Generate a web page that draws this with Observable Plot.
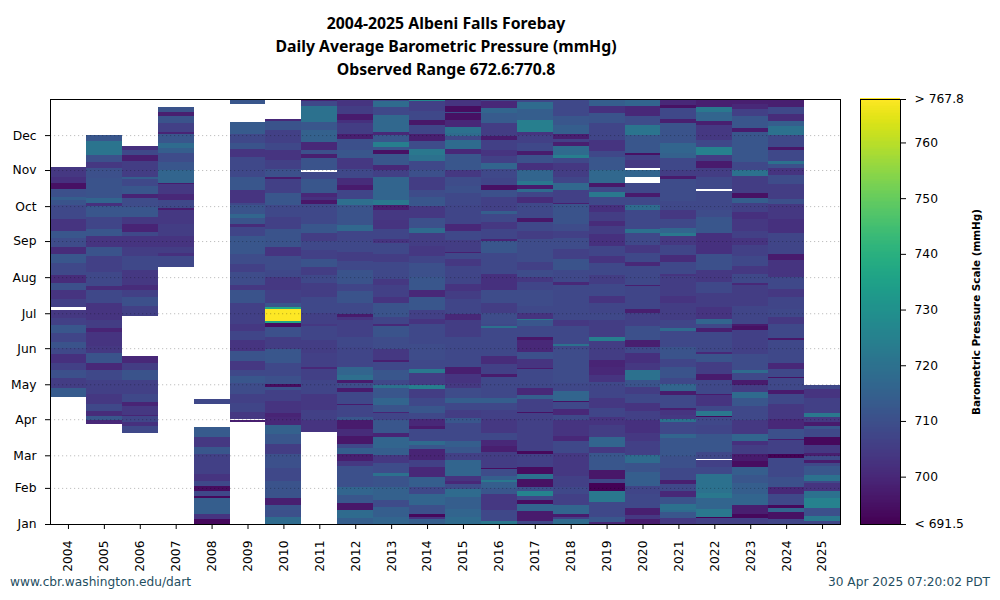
<!DOCTYPE html>
<html><head><meta charset="utf-8">
<script src="https://cdn.jsdelivr.net/npm/d3@7"></script>
<script src="https://cdn.jsdelivr.net/npm/@observablehq/plot@0.6"></script>
<style>
html,body{margin:0;padding:0;background:#fff}
#page{position:relative;width:1000px;height:600px;overflow:hidden;font-family:"DejaVu Sans",sans-serif}
#title{position:absolute;left:0;width:892px;top:12px;text-align:center;font:bold 15.8px/23px "Noto Sans",sans-serif;color:#000}
.foot{position:absolute;top:574px;font:12.2px/16px "DejaVu Sans",sans-serif;color:#1f4e5f}
#main,#bar{position:absolute;top:0}
svg{overflow:visible}
</style></head><body>
<div id="page">
<div id="title"><div>2004-2025 Albeni Falls Forebay</div><div>Daily Average Barometric Pressure (mmHg)</div><div>Observed Range 672.6:770.8</div></div>
<div id="main"></div><div id="bar"></div>
<div class="foot" style="left:10px">www.cbr.washington.edu/dart</div>
<div class="foot" style="right:10px">30 Apr 2025 07:20:02 PDT</div>
</div>
<script>
const years = [2004,2005,2006,2007,2008,2009,2010,2011,2012,2013,2014,2015,2016,2017,2018,2019,2020,2021,2022,2023,2024,2025];
const monthNames = ["Jan","Feb","Mar","Apr","May","Jun","Jul","Aug","Sep","Oct","Nov","Dec"];
const monthStarts = [0,31,59,90,120,151,181,212,243,273,304,334];
const scaleLow = 691.5, scaleHigh = 767.8;
const scaleTicks = [691.5,700,710,720,730,740,750,760,767.8];
// each run: [first day of year, pressure in mmHg]; null = no data
const y2004 = [[109,713],[117,705],[125,710],[132,706],[138,702],[146,708],[151,711],[156,707],[164,712],[171,706],[177,704],[184,null],[186,706],[193,703],[201,710],[207,701],[214,708],[224,712],[232,701],[238,709],[246,712],[252,703],[262,708],[274,711],[278,714],[281,710],[288,695],[293,702],[298,704],[307,null]];
const y2005 = [[86,700],[89,712],[93,701],[97,708],[103,704],[112,706],[124,708],[132,700],[138,711],[147,704],[153,703],[165,699],[168,705],[175,703],[190,708],[201,701],[204,708],[216,706],[230,711],[238,703],[247,712],[253,707],[264,712],[273,702],[276,716],[280,711],[297,710],[306,704],[311,710],[317,721],[329,712],[334,null]];
const y2006 = [[78,708],[84,702],[88,707],[93,699],[94,704],[101,699],[105,708],[112,706],[124,711],[132,705],[138,700],[144,null],[179,706],[187,710],[195,706],[201,701],[205,704],[218,708],[230,705],[238,703],[247,708],[251,699],[258,704],[264,712],[272,709],[280,699],[283,712],[290,708],[296,714],[298,705],[312,698],[317,708],[321,702],[325,null]];
const y2007 = [[221,708],[230,702],[233,705],[238,703],[247,705],[258,704],[270,697],[271,708],[278,700],[283,704],[292,697],[293,716],[304,712],[311,709],[319,714],[323,718],[327,712],[335,699],[337,706],[344,711],[350,698],[354,711],[358,null]];
const y2008 = [[0,693],[4,703],[9,714],[22,693],[24,708],[28,694],[33,708],[37,703],[43,706],[60,712],[66,704],[75,713],[83,null],[103,708],[107,null]];
const y2009 = [[88,698],[89,null],[90,704],[96,707],[104,706],[112,709],[121,712],[127,708],[132,704],[140,711],[149,703],[158,707],[166,704],[172,706],[190,711],[201,704],[205,709],[216,706],[223,709],[232,712],[247,707],[255,701],[258,711],[263,716],[266,711],[274,708],[276,703],[287,712],[298,708],[315,703],[322,711],[327,708],[335,713],[345,null],[361,712],[365,null]];
const y2010 = [[0,718],[6,710],[12,711],[16,698],[22,711],[37,708],[48,710],[60,705],[69,712],[77,715],[85,700],[92,699],[95,703],[106,706],[115,710],[118,694],[120,710],[127,708],[138,712],[150,705],[161,710],[169,694],[173,737],[174,770],[185,737],[186,712],[190,706],[201,704],[212,708],[218,709],[230,703],[238,711],[253,706],[264,708],[274,712],[284,706],[296,697],[298,710],[305,706],[313,703],[321,708],[327,706],[338,711],[346,700],[348,null]];
const y2011 = [[79,703],[89,706],[98,704],[112,707],[124,706],[133,700],[135,706],[147,705],[158,707],[170,704],[172,706],[181,708],[195,705],[207,708],[214,705],[221,711],[228,706],[235,708],[243,705],[250,712],[258,708],[275,696],[278,702],[281,700],[284,712],[296,708],[302,null],[304,711],[314,698],[318,710],[321,700],[328,715],[338,712],[345,720],[359,708],[363,699],[365,null]];
const y2012 = [[0,714],[5,718],[12,696],[18,712],[25,716],[32,710],[50,704],[54,698],[60,714],[65,708],[69,696],[76,701],[82,697],[89,712],[92,707],[102,697],[103,708],[113,697],[117,709],[121,697],[124,719],[128,716],[135,707],[152,708],[161,706],[175,703],[178,697],[180,708],[190,711],[200,707],[206,711],[218,708],[226,705],[234,708],[243,707],[252,717],[257,711],[274,719],[279,707],[287,697],[291,701],[297,708],[305,704],[314,712],[321,710],[331,698],[335,705],[344,702],[347,697],[352,705],[359,703],[365,null]];
const y2013 = [[0,716],[6,714],[15,709],[21,715],[32,711],[41,720],[44,709],[52,704],[59,714],[65,716],[75,699],[78,712],[89,707],[95,699],[96,711],[102,716],[108,712],[117,720],[119,708],[124,712],[132,708],[139,698],[141,704],[150,709],[161,711],[170,700],[172,707],[178,711],[190,703],[195,706],[205,704],[210,708],[225,705],[232,708],[241,703],[245,707],[253,703],[261,704],[270,698],[274,722],[278,716],[298,706],[304,700],[308,712],[318,695],[321,711],[324,724],[328,712],[334,700],[337,717],[351,708],[358,718],[363,708],[365,null]];
const y2014 = [[0,714],[4,703],[6,693],[9,710],[16,716],[26,708],[32,714],[40,700],[49,706],[55,699],[64,712],[68,718],[71,708],[82,697],[84,700],[90,708],[95,712],[101,708],[108,705],[116,724],[119,705],[130,722],[133,708],[141,709],[155,708],[172,703],[176,706],[184,712],[195,700],[201,712],[212,710],[224,707],[230,704],[239,705],[250,718],[254,710],[263,704],[273,712],[281,709],[287,705],[298,710],[304,708],[312,720],[317,722],[322,709],[329,698],[335,707],[343,696],[347,708],[355,706],[363,727],[365,null]];
const y2015 = [[0,718],[6,716],[13,714],[23,718],[30,709],[34,700],[37,703],[41,716],[55,706],[61,712],[66,714],[71,708],[87,712],[91,705],[98,708],[104,714],[108,709],[117,704],[121,703],[129,698],[135,708],[161,705],[175,700],[180,707],[193,705],[200,703],[206,707],[222,704],[228,708],[233,698],[234,705],[244,708],[252,700],[258,707],[274,708],[284,710],[290,709],[298,704],[304,712],[318,700],[322,718],[330,708],[333,718],[336,720],[341,700],[347,695],[353,710],[354,694],[359,703],[365,null]];
const y2016 = [[0,722],[3,708],[12,704],[26,712],[31,714],[36,722],[38,714],[41,709],[47,694],[48,705],[62,698],[67,700],[72,708],[78,704],[90,706],[98,708],[104,714],[108,708],[117,708],[126,697],[129,706],[137,701],[144,708],[168,720],[170,708],[172,709],[181,705],[190,709],[201,702],[215,708],[233,712],[243,699],[245,707],[253,704],[259,708],[266,714],[269,706],[281,710],[287,695],[291,707],[297,708],[305,716],[310,706],[316,703],[321,706],[330,697],[333,705],[344,713],[353,716],[357,700],[363,708],[365,null]];
const y2017 = [[0,708],[3,697],[11,716],[17,694],[21,708],[24,726],[28,710],[32,695],[39,720],[43,694],[49,706],[60,693],[63,706],[95,695],[96,706],[107,714],[111,700],[117,708],[133,697],[134,703],[142,710],[148,700],[158,696],[161,708],[170,712],[175,722],[176,703],[181,708],[187,709],[201,707],[208,704],[212,709],[218,706],[225,709],[245,705],[252,708],[259,696],[263,708],[276,701],[281,707],[285,718],[288,697],[291,722],[295,716],[304,702],[310,710],[317,697],[320,708],[327,706],[334,703],[337,724],[347,714],[356,718],[362,708],[365,null]];
const y2018 = [[0,718],[4,706],[6,697],[9,716],[16,706],[26,708],[32,706],[41,704],[61,708],[71,700],[76,703],[89,708],[94,700],[99,708],[105,695],[106,716],[114,708],[121,709],[150,708],[153,720],[155,708],[170,704],[175,708],[187,708],[205,700],[208,708],[218,711],[228,706],[236,709],[246,706],[252,709],[258,711],[275,698],[276,706],[287,717],[293,707],[298,705],[304,704],[310,708],[314,724],[317,718],[325,698],[328,706],[331,698],[335,714],[343,712],[350,708],[365,null]];
const y2019 = [[0,700],[2,712],[6,708],[19,722],[28,692],[35,708],[39,696],[46,712],[61,704],[66,716],[75,705],[85,703],[92,707],[100,704],[108,707],[119,708],[122,703],[128,700],[135,699],[141,705],[157,724],[161,705],[175,708],[181,707],[190,703],[196,708],[206,705],[214,708],[224,703],[230,707],[239,702],[249,705],[256,701],[260,705],[268,702],[274,708],[281,722],[285,708],[289,696],[293,717],[304,712],[315,708],[320,703],[330,707],[344,711],[353,702],[359,714],[365,null]];
const y2020 = [[0,697],[4,704],[8,698],[14,708],[26,707],[33,714],[45,711],[52,718],[59,706],[71,704],[78,702],[89,706],[97,703],[104,708],[112,705],[118,711],[124,720],[132,704],[138,702],[147,708],[152,698],[158,710],[170,706],[181,698],[185,707],[204,698],[205,708],[222,700],[225,708],[233,704],[240,708],[250,720],[253,708],[270,718],[274,708],[281,697],[284,708],[293,null],[298,716],[304,null],[306,704],[313,706],[317,695],[319,712],[328,712],[334,721],[343,709],[350,700],[359,716],[365,null]];
const y2021 = [[0,704],[5,712],[10,718],[12,720],[17,711],[23,700],[28,708],[34,698],[38,708],[48,710],[58,712],[74,716],[77,708],[88,720],[90,704],[94,703],[98,698],[100,708],[111,697],[114,716],[120,708],[125,711],[135,707],[142,711],[152,708],[166,718],[168,707],[175,705],[190,703],[196,705],[213,703],[215,708],[225,701],[231,707],[240,704],[247,722],[250,716],[254,708],[262,704],[270,708],[277,709],[296,697],[299,705],[304,708],[314,715],[319,716],[327,711],[344,698],[348,708],[357,695],[360,700],[365,null]];
const y2022 = [[0,706],[5,692],[6,722],[13,716],[22,722],[27,720],[43,708],[49,706],[55,null],[56,708],[62,712],[77,707],[85,708],[92,693],[93,722],[97,708],[101,703],[111,697],[112,708],[117,708],[124,697],[129,705],[139,711],[146,700],[148,708],[165,698],[168,708],[172,716],[176,703],[186,705],[198,708],[208,704],[218,710],[232,702],[250,712],[264,709],[270,708],[281,708],[286,null],[288,708],[298,705],[306,697],[312,705],[317,725],[324,708],[330,704],[343,698],[346,716],[354,722],[358,698],[365,null]];
const y2023 = [[0,706],[5,693],[9,698],[16,716],[26,714],[35,712],[42,714],[49,694],[54,697],[60,705],[68,702],[71,716],[77,704],[89,708],[101,712],[108,718],[113,705],[119,697],[124,708],[130,718],[132,709],[146,706],[167,695],[170,697],[172,707],[187,705],[205,700],[207,708],[215,704],[222,708],[230,706],[240,703],[246,706],[252,704],[262,702],[268,706],[276,714],[280,695],[284,705],[299,720],[304,708],[311,712],[324,712],[337,697],[340,712],[350,706],[356,700],[361,698],[365,null]];
const y2024 = [[0,707],[4,695],[10,716],[14,693],[16,708],[26,700],[32,710],[40,708],[57,692],[60,706],[72,697],[73,710],[82,700],[90,704],[103,708],[112,697],[115,708],[125,695],[126,708],[133,700],[138,708],[158,696],[160,708],[172,704],[178,708],[185,707],[195,704],[202,708],[212,703],[227,697],[232,707],[250,702],[262,704],[275,710],[279,705],[292,709],[300,703],[306,710],[309,720],[312,708],[321,696],[324,708],[334,720],[342,714],[346,701],[352,708],[358,698],[365,null]];
const y2025 = [[0,707],[3,722],[7,710],[14,725],[22,720],[28,703],[35,708],[37,720],[42,712],[50,708],[52,697],[55,708],[58,698],[61,704],[68,693],[75,708],[82,712],[84,697],[88,704],[92,722],[95,706],[108,703],[116,708],[119,null]];
const allRuns = [y2004,y2005,y2006,y2007,y2008,y2009,y2010,y2011,y2012,y2013,y2014,y2015,y2016,y2017,y2018,y2019,y2020,y2021,y2022,y2023,y2024,y2025];

const cells = years.flatMap((year,i) => {
  const r = allRuns[i];
  return r.slice(0,-1).map((d,j)=>({year,start:d[0],end:r[j+1][0],value:d[1]})).filter(d=>d.value!=null);
});
const gridDays = monthStarts.slice(1);
const fontCss = {fontFamily:'"DejaVu Sans",sans-serif',fontSize:"12.3px",color:"#000",background:"transparent"};

const main = Plot.plot({
  width:1000,height:600,marginLeft:50,marginRight:160,marginTop:99,marginBottom:76,style:fontCss,
  x:{type:"band",domain:years,padding:0,round:false,label:null},
  y:{domain:[0,365],label:null},
  color:{type:"linear",scheme:"viridis",domain:[scaleLow,scaleHigh],clamp:true},
  marks:[
    Plot.barY(cells,{x:"year",y1:"start",y2:"end",fill:"value",inset:0,shapeRendering:"crispEdges"}),
    Plot.ruleY(gridDays,{stroke:"#000",strokeOpacity:0.25,strokeDasharray:"1.2 2.8"}),
    Plot.frame({stroke:"#000",strokeWidth:1}),
    Plot.axisX({anchor:"bottom",ticks:years,tickSize:5,tickPadding:11,tickRotate:-90,label:null,tickFormat:d=>String(d),stroke:"#000"}),
    Plot.axisY({anchor:"left",ticks:monthStarts,tickSize:5,tickPadding:9,label:null,tickFormat:d=>monthNames[monthStarts.indexOf(d)],stroke:"#000"})
  ]
});
document.getElementById("main").appendChild(main);

const barSteps = d3.range(scaleLow,scaleHigh,0.25);
const bar = Plot.plot({
  width:1000,height:600,marginLeft:860,marginRight:100,marginTop:99,marginBottom:76,style:fontCss,
  x:{axis:null,domain:[0,1]},
  y:{domain:[scaleLow,scaleHigh],label:null},
  color:{type:"linear",scheme:"viridis",domain:[scaleLow,scaleHigh]},
  marks:[
    Plot.rect(barSteps,{x1:0,x2:1,y1:d=>d,y2:d=>d+0.25,fill:d=>d,shapeRendering:"crispEdges"}),
    Plot.frame({stroke:"#000",strokeWidth:1}),
    Plot.axisY({anchor:"right",ticks:scaleTicks,tickSize:5,tickPadding:9,label:null,stroke:"#000",
      tickFormat:d=>d===scaleLow?"< 691.5":d===scaleHigh?"> 767.8":String(d)}),
    Plot.text(["Barometric Pressure Scale (mmHg)"],{frameAnchor:"right",dx:76,rotate:-90,text:d=>d,textAnchor:"middle",fontWeight:"bold",fontSize:10.4,lineAnchor:"middle"})
  ]
});
document.getElementById("bar").appendChild(bar);
</script>
</body></html>
